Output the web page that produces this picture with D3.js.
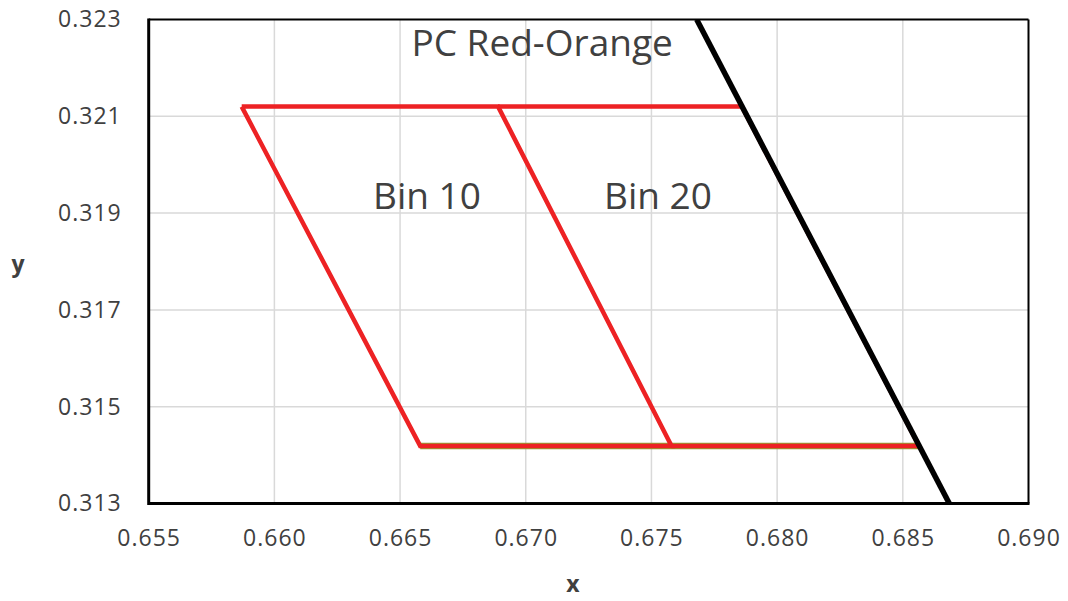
<!DOCTYPE html>
<html><head><meta charset="utf-8">
<script src="https://cdn.jsdelivr.net/npm/d3@7"></script>
<style>body{margin:0;background:#fff}svg{display:block}</style>
</head><body>
<svg id="c" width="1068" height="601"></svg>
<script>
const xTicks = [0.655,0.660,0.665,0.670,0.675,0.680,0.685,0.690];
const yTicks = [0.313,0.315,0.317,0.319,0.321,0.323];
const bin10 = [[0.6587,0.3212],[0.6689,0.3212],[0.6758,0.31419],[0.6658,0.31419],[0.6587,0.3212]];
const bin20 = [[0.6689,0.3212],[0.6786,0.3212],[0.68565,0.31419],[0.6758,0.31419]];
const baseEdge = [[0.6658,0.31419],[0.68565,0.31419]];
const pcLine = [[0.6768,0.323],[0.68685,0.313]];
const labels = [{t:"PC Red-Orange",x:0.67065,y:0.32225},{t:"Bin 10",x:0.66607,y:0.319085},{t:"Bin 20",x:0.67526,y:0.319085}];

const svg = d3.select("#c");
const L=148.7,R=1028.5,T=19.5,B=503.5;
const x = d3.scaleLinear().domain([0.655,0.690]).range([L,R]);
const y = d3.scaleLinear().domain([0.313,0.323]).range([B,T]);
const font = "'Open Sans', 'Liberation Sans', sans-serif";

svg.append("defs").append("clipPath").attr("id","pc").append("rect")
  .attr("x",L).attr("y",T).attr("width",R-L).attr("height",B-T);

// gridlines
svg.append("g").selectAll("line").data(xTicks.slice(1,-1)).join("line")
  .attr("x1",d=>x(d)).attr("x2",d=>x(d)).attr("y1",T).attr("y2",B)
  .attr("stroke","#d9d9d9").attr("stroke-width",1.5);
svg.append("g").selectAll("line").data(yTicks.slice(1,-1)).join("line")
  .attr("y1",d=>y(d)).attr("y2",d=>y(d)).attr("x1",L).attr("x2",R)
  .attr("stroke","#d9d9d9").attr("stroke-width",1.5);

// axes
const xAxis = d3.axisBottom(x).tickValues(xTicks).tickFormat(d3.format(".3f")).tickSize(0).tickPadding(26);
const gx = svg.append("g").attr("transform",`translate(0,${B})`).call(xAxis);
gx.select(".domain").remove();
gx.selectAll("text").attr("font-family",font).attr("font-size",23).attr("letter-spacing","1px").attr("fill","#404040");
const yAxis = d3.axisLeft(y).tickValues(yTicks).tickFormat(d3.format(".3f")).tickSize(0).tickPadding(27);
const gy = svg.append("g").attr("transform",`translate(${L},0)`).call(yAxis);
gy.select(".domain").remove();
gy.selectAll("text").attr("font-family",font).attr("font-size",23).attr("letter-spacing","1px").attr("fill","#404040");

// border
svg.append("line").attr("x1",L).attr("x2",R).attr("y1",T).attr("y2",T).attr("stroke","#000").attr("stroke-width",2);
svg.append("line").attr("x1",R).attr("x2",R).attr("y1",T).attr("y2",B).attr("stroke","#000").attr("stroke-width",2);

const line = d3.line().x(d=>x(d[0])).y(d=>y(d[1]));
const g = svg.append("g").attr("clip-path","url(#pc)");
g.append("path").attr("d",line(baseEdge)).attr("fill","none").attr("stroke","#95a035").attr("stroke-width",6.5);
[bin10,bin20].forEach(d=>{
  g.append("path").attr("d",line(d)).attr("fill","none").attr("stroke","#ed2224").attr("stroke-width",4.5);
});
g.append("path").attr("d",line(pcLine)).attr("fill","none").attr("stroke","#000").attr("stroke-width",5.5);

svg.append("line").attr("x1",L).attr("x2",L).attr("y1",T-1).attr("y2",B+1.5).attr("stroke","#000").attr("stroke-width",3);
svg.append("line").attr("x1",L).attr("x2",R+1).attr("y1",B).attr("y2",B).attr("stroke","#000").attr("stroke-width",3);

svg.append("g").selectAll("text").data(labels).join("text")
  .attr("x",d=>x(d.x)).attr("y",d=>y(d.y)).attr("text-anchor","middle")
  .attr("font-family",font).attr("font-size",37).attr("fill","#404040").text(d=>d.t);

svg.append("text").attr("x",573).attr("y",592).attr("text-anchor","middle")
  .attr("font-family",font).attr("font-weight","bold").attr("font-size",23).attr("fill","#404040").text("x");
svg.append("text").attr("x",18).attr("y",272).attr("text-anchor","middle")
  .attr("font-family",font).attr("font-weight","bold").attr("font-size",23).attr("fill","#404040").text("y");
</script>
</body></html>
